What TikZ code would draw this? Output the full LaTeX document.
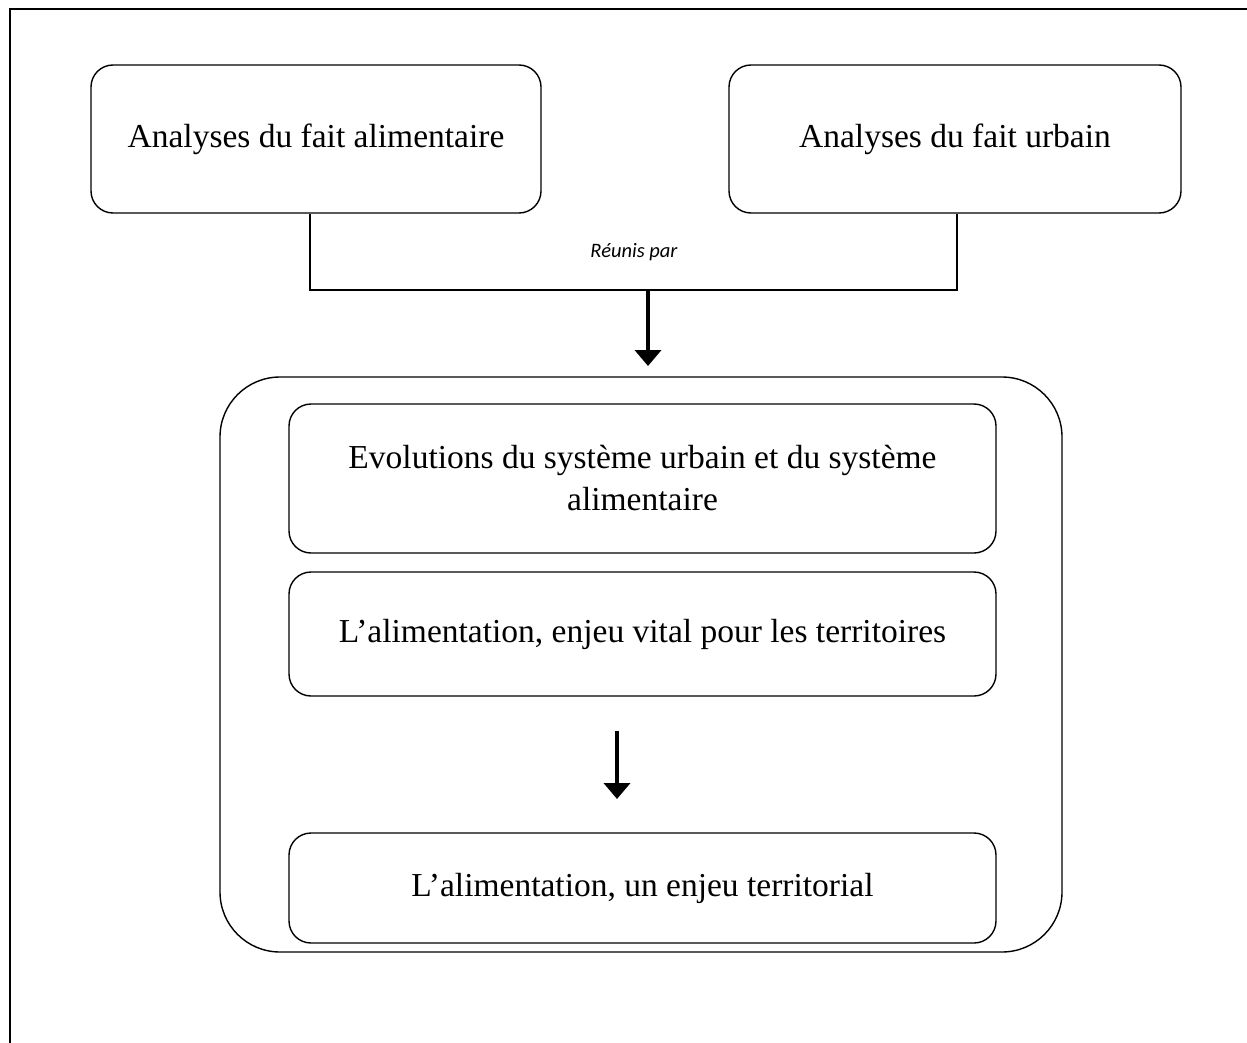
\documentclass[tikz,border=0pt]{standalone}
\usepackage{fontspec}
\setmainfont{Liberation Serif}
\newfontfamily\notefont{Carlito}
\usetikzlibrary{arrows.meta}
\tikzset{
  boite/.style={draw, line width=1.4pt, rounded corners=22pt, align=center, font=\fontsize{33.5}{42}\selectfont},
  fleche/.style={line width=4pt, -{Triangle[width=26pt,length=16pt]}}
}
\begin{document}
\begin{tikzpicture}[x=1pt,y=-1pt]
  \useasboundingbox (0,0) rectangle (1247,1043);
  % cadre
  \draw[line width=2.8pt] (10,1043) -- (10,9) -- (1247,9);
  % les deux analyses
  \node[boite, minimum width=450pt, minimum height=148pt] (alim) at (316,139) {Analyses du fait alimentaire};
  \node[boite, minimum width=452pt, minimum height=148pt] (urb) at (955,139) {Analyses du fait urbain};
  \coordinate (jonction) at (648,290);
  \coordinate (pointe) at (648,366);
  \draw[line width=1.6pt] ([xshift=-6pt]alim.south) |- (jonction) -| ([xshift=2pt]urb.south);
  \node[font=\notefont\itshape\fontsize{20.5}{24}\selectfont] (reunis) at (634,252) {Réunis par};
  \draw[fleche] (jonction) -- (pointe);
  % bloc central
  \node[draw, line width=1.4pt, rounded corners=60pt, minimum width=842pt, minimum height=575pt] (bloc) at (641,664.5) {};
  \node[boite, minimum width=707pt, minimum height=149pt] (evol) at (642.5,478.5) {Evolutions du système urbain et du système\\alimentaire};
  \node[boite, minimum width=707pt, minimum height=124pt] (vital) at (642.5,634) {L’alimentation, enjeu vital pour les territoires};
  \node[boite, minimum width=707pt, minimum height=110pt] (terr) at (642.5,888) {L’alimentation, un enjeu territorial};
  \coordinate (depart) at (617,731);
  \coordinate (arrivee) at (617,799);
  \draw[fleche] (depart) -- (arrivee);
\end{tikzpicture}
\end{document}
